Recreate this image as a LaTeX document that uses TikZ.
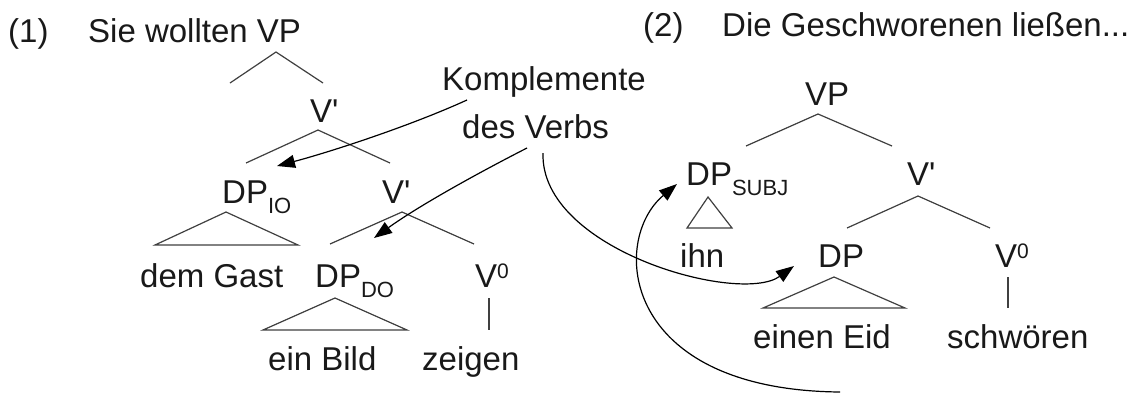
\documentclass[tikz,border=0pt]{standalone}
\usepackage{fontspec}
\setmainfont{Liberation Sans}
\usetikzlibrary{arrows.meta}
\newcommand{\mysub}[1]{\raisebox{-10pt}{\fontsize{22}{24}\selectfont #1}}
\newcommand{\mysup}[1]{\raisebox{9pt}{\fontsize{21}{24}\selectfont #1}}
\tikzset{
  txt/.style={inner sep=0pt, anchor=base west, font=\fontsize{33}{38}\selectfont, text=black!90},
  branch/.style={draw=black!75, line width=1.2pt},
  pointer/.style={draw=black, line width=1.2pt, -{Triangle[length=18pt,width=13pt]}}
}
\begin{document}
\begin{tikzpicture}[x=1pt,y=-1pt]
\useasboundingbox[fill=white] (0,0) rectangle (1137,392);

% ---------- headers ----------
\node[txt] (n1) at (8,42) {(1)};
\node[txt] (h1) at (88,42) {Sie wollten VP};
\node[txt] (n2) at (643,36) {(2)};
\node[txt] (h2) at (722,36) {Die Geschworenen ließen...};

% ---------- tree 1 ----------
\node[txt] (vbar1a) at (310,122) {V\textquotesingle};
\node[txt] (dpio) at (222,203) {DP\mysub{IO}};
\node[txt] (vbar1b) at (382,203) {V\textquotesingle};
\node[txt] (gast) at (140,287) {dem Gast};
\node[txt] (dpdo) at (315,287) {DP\mysub{DO}};
\node[txt] (v01) at (475,287) {V\mysup{0}};
\node[txt] (bild) at (268,370) {ein Bild};
\node[txt] (zeigen) at (422,370) {zeigen};

\coordinate (vp1a) at (276,52);  \coordinate (vp1l) at (230,83);  \coordinate (vp1r) at (323,83);
\coordinate (va1a) at (318,130); \coordinate (va1l) at (246,163); \coordinate (va1r) at (390,163);
\coordinate (vb1a) at (402,212); \coordinate (vb1l) at (330,244); \coordinate (vb1r) at (474,244);
\draw[branch] (vp1l) -- (vp1a) -- (vp1r);
\draw[branch] (va1l) -- (va1a) -- (va1r);
\draw[branch] (vb1l) -- (vb1a) -- (vb1r);
\draw[branch] (226,212) -- (155,245) -- (298,245) -- cycle;
\draw[branch] (335,298) -- (263,330) -- (407,330) -- cycle;
\coordinate (v01t) at (489,298); \coordinate (v01b) at (489,330);
\draw[branch] (v01t) -- (v01b);

% ---------- label ----------
\node[txt] (komp) at (442,90) {Komplemente};
\node[txt] (verbs) at (462,138) {des Verbs};

% ---------- tree 2 ----------
\node[txt] (vp2) at (805,105) {VP};
\node[txt] (dpsubj) at (686,185) {DP\mysub{SUBJ}};
\node[txt] (vbar2) at (907,185) {V\textquotesingle};
\node[txt] (ihn) at (680,267) {ihn};
\node[txt] (dp2) at (818,267) {DP};
\node[txt] (v02) at (995,267) {V\mysup{0}};
\node[txt] (eid) at (753,348) {einen Eid};
\node[txt] (schw) at (947,348) {schwören};

\coordinate (vp2a) at (818,114); \coordinate (vp2l) at (746,146); \coordinate (vp2r) at (892,146);
\coordinate (va2a) at (918,196); \coordinate (va2l) at (847,228); \coordinate (va2r) at (990,228);
\draw[branch] (vp2l) -- (vp2a) -- (vp2r);
\draw[branch] (va2l) -- (va2a) -- (va2r);
\draw[branch] (708,197) -- (687,228) -- (732,228) -- cycle;
\draw[branch] (834,277) -- (763,308) -- (905,308) -- cycle;
\coordinate (v02t) at (1008,277); \coordinate (v02b) at (1008,308);
\draw[branch] (v02t) -- (v02b);

% ---------- arrows ----------
\coordinate (a1s) at (467,100); \coordinate (a1e) at (277,166);
\coordinate (a2s) at (527,148); \coordinate (a2e) at (374,238);
\coordinate (a3s) at (543,153); \coordinate (a3e) at (794,266);
\coordinate (a4s) at (840,392); \coordinate (a4e) at (677,184);
\draw[pointer] (a1s) .. controls (410,126) and (330,152) .. (a1e);
\draw[pointer] (a2s) .. controls (480,172) and (420,205) .. (a2e);
\draw[pointer] (a3s) .. controls (540,250) and (740,305) .. (a3e);
\draw[pointer] (a4s) .. controls (620,390) and (610,240) .. (a4e);
\end{tikzpicture}
\end{document}
